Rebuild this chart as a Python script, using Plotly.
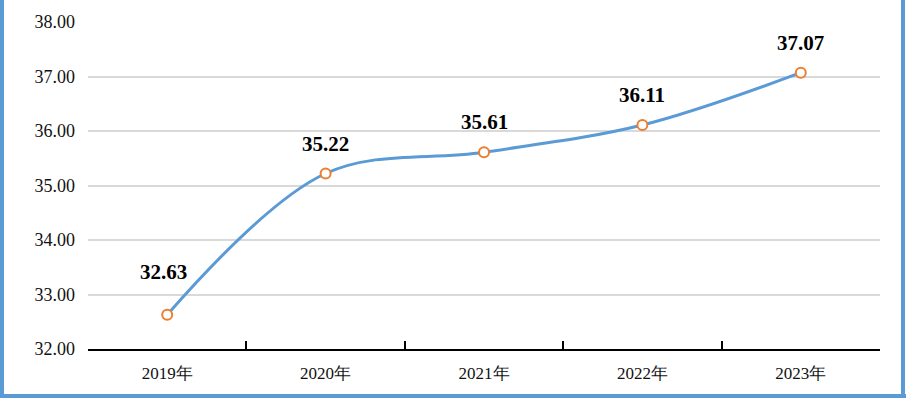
import plotly.graph_objects as go

years = ["2019年", "2020年", "2021年", "2022年", "2023年"]
values = [32.63, 35.22, 35.61, 36.11, 37.07]
y_ticks = [32, 33, 34, 35, 36, 37, 38]
y_tick_labels = ["32.00", "33.00", "34.00", "35.00", "36.00", "37.00", "38.00"]

FONT = "Liberation Serif"

fig = go.Figure()
fig.add_trace(go.Scatter(
    x=years, y=values, mode="lines+markers",
    line=dict(color="#5B9BD5", width=3, shape="spline", smoothing=1.0),
    marker=dict(symbol="circle", size=10, color="white",
                line=dict(color="#ED7D31", width=2)),
    hoverinfo="skip", showlegend=False,
))

for i, (x, v) in enumerate(zip(years, values)):
    fig.add_annotation(
        x=x, y=v, text=f"<b>{v:.2f}</b>", showarrow=False,
        yshift=43 if i == 0 else 30, xshift=-4 if i == 0 else 0,
        font=dict(family=FONT, size=21, color="black"),
    )

fig.update_xaxes(
    type="category", range=[-0.5, 4.5],
    showgrid=False, showline=True, linecolor="black", linewidth=2,
    ticks="inside", tickson="boundaries", ticklen=8, tickwidth=2, tickcolor="black",
    tickfont=dict(family=FONT, size=17, color="#111"),
    ticklabelstandoff=8,
    zeroline=False,
)
fig.update_yaxes(
    range=[32, 38], tickvals=y_ticks, ticktext=y_tick_labels,
    showgrid=True, gridcolor="#D9D9D9", gridwidth=1.5,
    showline=False, zeroline=False, ticks="",
    tickfont=dict(family=FONT, size=18, color="#111"),
    ticklabelstandoff=12,
)

# blue frame (left, right, bottom)
L, R, T, B = 88, 26, 22, 49
W, H = 906, 398
pw, ph = W - L - R, H - T - B
def px(x): return (x - L) / pw
def py(y): return (H - B - y) / ph
frame = dict(type="line", xref="paper", yref="paper",
             line=dict(color="#5B9BD5", width=4))
fig.add_shape(**frame, x0=px(2), x1=px(2), y0=py(0), y1=py(396))
fig.add_shape(**frame, x0=px(903), x1=px(903), y0=py(0), y1=py(396))
fig.add_shape(**frame, x0=px(0), x1=px(906), y0=py(396), y1=py(396))

fig.update_layout(
    width=W, height=H,
    margin=dict(l=L, r=R, t=T, b=B),
    paper_bgcolor="white", plot_bgcolor="white",
    font=dict(family=FONT),
)

fig.write_html("out.html", config={"displayModeBar": False},
               post_script="document.body.style.margin='0';document.body.style.overflow='hidden';")
